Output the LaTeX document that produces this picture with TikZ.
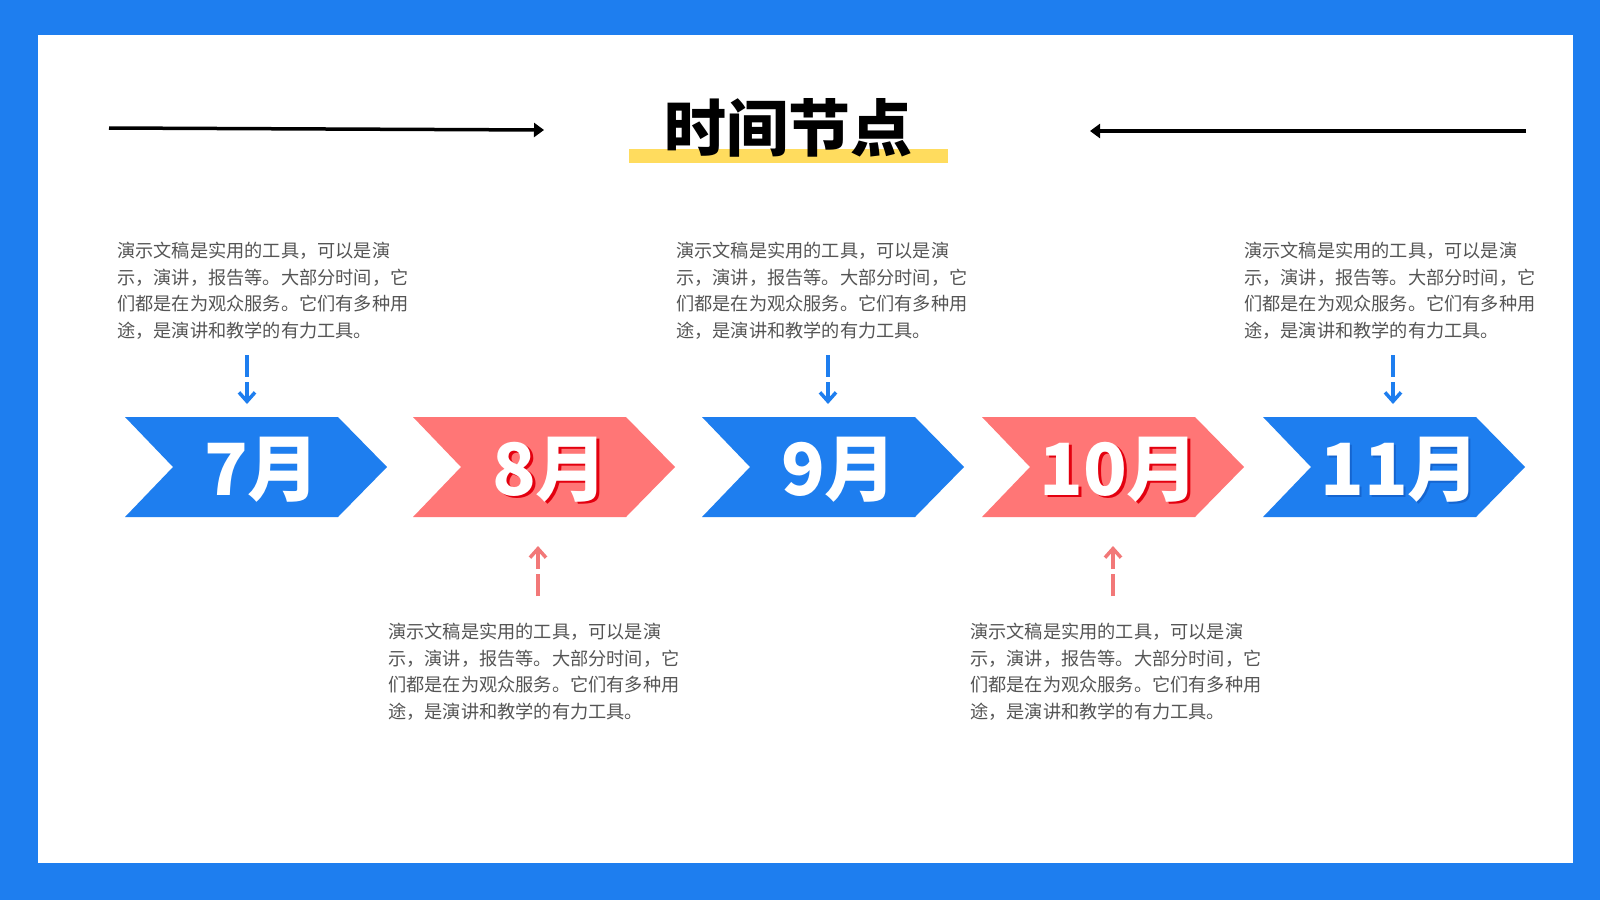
\documentclass[tikz,border=0pt]{standalone}
\usepackage{fontspec}
\newfontfamily\cjk{Noto Sans CJK SC}
\usetikzlibrary{arrows.meta, positioning, calc}

\definecolor{frameblue}{HTML}{1E7EEF}
\definecolor{chevred}{HTML}{FF7676}
\definecolor{shadowred}{HTML}{E3000F}
\definecolor{shadowblue}{HTML}{1565D0}
\definecolor{arrowred}{HTML}{F27878}
\definecolor{baryellow}{HTML}{FFDC5E}
\definecolor{descgray}{HTML}{555555}

% chevron with its left edge at #1, filled with #2
\newcommand{\chevron}[2]{%
  \fill[#2] (#1,417) -- ++(213,0) -- ++(49,50) -- ++(-49,50) -- ++(-213,0)
    -- ++(48,-50) -- cycle;}

\newcommand{\desctext}{演示文稿是实用的工具，可以是演\\示，演讲，报告等。大部分时间，它\\们都是在为观众服务。它们有多种用\\途，是演讲和教学的有力工具。}

\begin{document}
\begin{tikzpicture}[
    x=1pt, y=-1pt,
    month/.style={text=white, font=\cjk\bfseries\fontsize{72}{72}\selectfont, inner sep=0},
    desc/.style={anchor=north west, align=left, inner sep=0, text=descgray,
      font=\cjk\fontsize{18.2}{26.5}\selectfont},
    bigarrow/.style={-{Triangle[length=10pt, width=14pt]}, line width=3.5pt},
    downarrow/.style={-{Straight Barb[length=9pt, width=16pt]}, line width=3.5pt,
      dash pattern=on 22pt off 5pt, frameblue},
    uparrow/.style={downarrow, arrowred}
]

    % === Frame ===
    \useasboundingbox (0,0) rectangle (1600,900);
    \fill[frameblue] (0,0) rectangle (1600,900);
    \fill[white] (38,35) rectangle (1573,863);

    % === Title ===
    \fill[baryellow] (629,149) rectangle (948,163);
    \node[font=\cjk\bfseries\fontsize{62}{62}\selectfont, inner sep=0] (title) at (788,128) {时间节点};

    \coordinate (la) at (109,128);
    \coordinate (lb) at (544,130);
    \coordinate (ra) at (1526,131);
    \coordinate (rb) at (1090,131);
    \draw[bigarrow] (la) -- (lb);
    \draw[bigarrow] (ra) -- (rb);

    % === Chevrons ===
    \chevron{125}{frameblue}
    \chevron{413}{chevred}
    \chevron{702}{frameblue}
    \chevron{982}{chevred}
    \chevron{1263}{frameblue}

    \node[month] (m7) at (262,470) {7月};
    \node[month, text=shadowred] (s8) at (553,472) {8月};
    \node[month] (m8) at (550,470) {8月};
    \node[month] (m9) at (839,470) {9月};
    \node[month, text=shadowred] (s10) at (1122,472) {10月};
    \node[month] (m10) at (1119,470) {10月};
    \node[month, text=shadowblue] (s11) at (1402,472) {11月};
    \node[month] (m11) at (1400,470) {11月};

    % === Descriptions ===
    \node[desc] (d7) at (117,242) {\desctext};
    \node[desc] (d9) at (676,242) {\desctext};
    \node[desc] (d11) at (1244,242) {\desctext};
    \node[desc] (d8) at (388,623) {\desctext};
    \node[desc] (d10) at (970,623) {\desctext};

    % === Dashed pointers ===
    \coordinate (p7a) at (247,355);  \coordinate (p7b) at (247,404);
    \coordinate (p9a) at (828,355);  \coordinate (p9b) at (828,404);
    \coordinate (p11a) at (1393,355); \coordinate (p11b) at (1393,404);
    \coordinate (p8a) at (538,596);  \coordinate (p8b) at (538,546);
    \coordinate (p10a) at (1113,596); \coordinate (p10b) at (1113,546);
    \draw[downarrow] (p7a) -- (p7b);
    \draw[downarrow] (p9a) -- (p9b);
    \draw[downarrow] (p11a) -- (p11b);
    \draw[uparrow] (p8a) -- (p8b);
    \draw[uparrow] (p10a) -- (p10b);

\end{tikzpicture}
\end{document}
